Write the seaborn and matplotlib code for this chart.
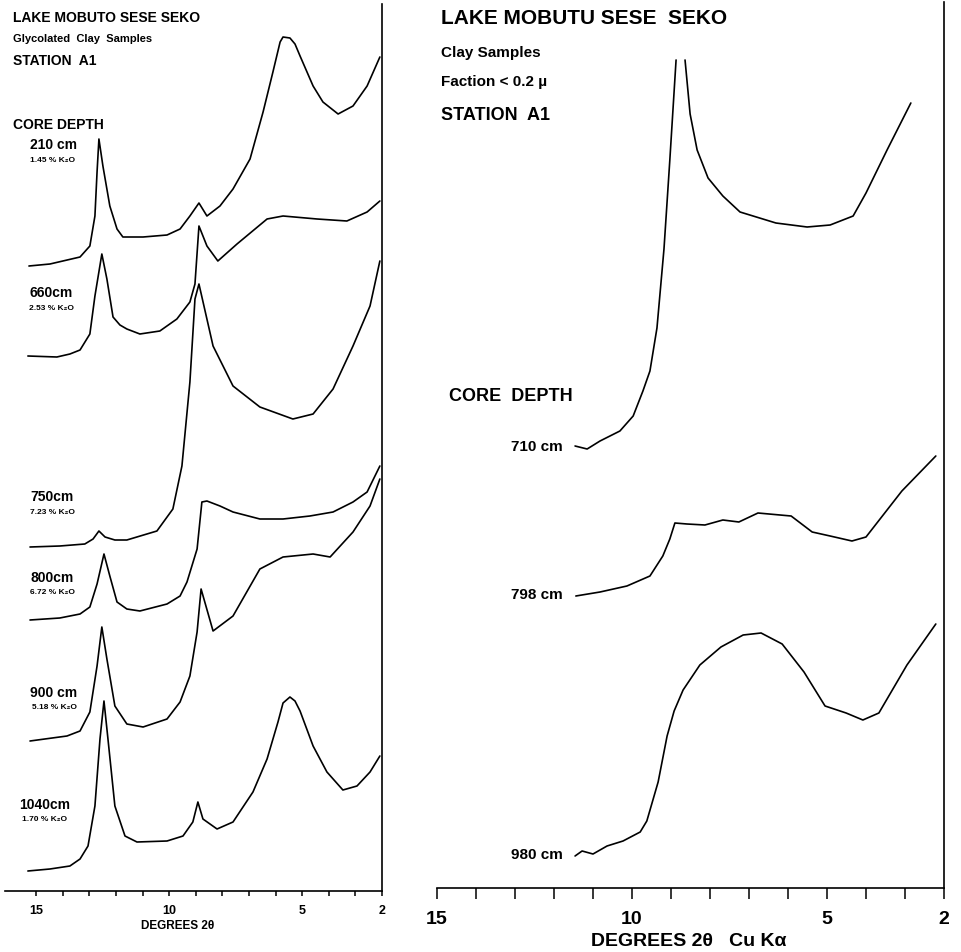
import pandas as pd
import seaborn as sns
import matplotlib
matplotlib.use("Agg")
import matplotlib.pyplot as plt
from matplotlib.ticker import FixedLocator

# ---- left panel: glycolated clay samples ----
depths_left = ["210 cm", "660cm", "750cm", "800cm", "900 cm", "1040cm"]
k2o_left = ["1.45 % K₂O", "2.53 % K₂O", "7.23 % K₂O", "6.72 % K₂O", "5.18 % K₂O", "1.70 % K₂O"]
offsets_left = [625, 535, 344, 271, 150, 20]

tt_210 = [15.27, 14.48, 13.35, 12.98, 12.79, 12.71, 12.64, 12.49, 12.23, 11.96, 11.74, 10.98, 10.08, 9.59,
          9.22, 8.88, 8.58, 8.09, 7.60, 6.96, 6.47, 6.10, 5.83, 5.72, 5.46, 5.27, 5.08, 4.59, 4.22, 3.65,
          3.09, 2.56, 2.08]
i_210 = [0, 2, 9, 20, 50, 94, 127, 100, 60, 37, 29, 29, 31, 37, 50, 63, 50, 60, 77, 107, 154, 194, 224,
         229, 228, 222, 210, 180, 164, 152, 160, 180, 209]

tt_660 = [15.31, 14.22, 13.73, 13.35, 12.98, 12.79, 12.53, 12.34, 12.11, 11.85, 11.59, 11.10, 10.35, 9.71,
          9.22, 9.03, 8.88, 8.58, 8.17, 7.45, 6.32, 5.72, 4.44, 3.32, 2.56, 2.08]
i_660 = [0, -1, 2, 6, 22, 60, 102, 77, 39, 31, 27, 22, 25, 37, 54, 72, 130, 110, 95, 112, 137, 140, 137,
         135, 144, 155]

tt_750 = [15.23, 14.11, 13.17, 12.86, 12.64, 12.41, 12.04, 11.59, 10.46, 9.86, 9.52, 9.22, 9.03, 8.88,
          8.35, 7.60, 6.59, 5.35, 4.59, 3.84, 3.09, 2.45, 2.08]
i_750 = [0, 1, 3, 8, 16, 10, 7, 7, 16, 38, 81, 165, 248, 263, 201, 161, 140, 128, 133, 158, 201, 241, 286]

tt_800 = [15.23, 14.11, 13.35, 12.98, 12.71, 12.45, 12.23, 11.96, 11.59, 11.10, 10.08, 9.59, 9.33, 8.95,
          8.77, 8.58, 8.09, 7.60, 6.59, 5.72, 4.71, 3.84, 3.09, 2.56, 2.08]
i_800 = [0, 2, 6, 13, 36, 66, 44, 18, 11, 9, 16, 24, 38, 71, 118, 119, 114, 108, 101, 101, 104, 108, 118,
         128, 154]

tt_900 = [15.23, 13.84, 13.35, 12.98, 12.71, 12.53, 12.34, 12.04, 11.59, 10.98, 10.08, 9.59, 9.22, 8.95,
          8.80, 8.35, 7.60, 6.59, 5.72, 4.59, 3.95, 3.09, 2.45, 2.08]
i_900 = [0, 5, 10, 29, 75, 114, 82, 35, 17, 14, 22, 39, 65, 109, 152, 110, 125, 172, 184, 187, 184, 209,
         235, 262]

tt_1040 = [15.31, 14.48, 13.73, 13.35, 13.05, 12.79, 12.60, 12.45, 12.30, 12.04, 11.66, 11.21, 10.08, 9.48,
           9.11, 8.92, 8.73, 8.20, 7.60, 6.85, 6.32, 5.91, 5.72, 5.46, 5.27, 5.08, 4.59, 4.07, 3.47, 2.94,
           2.45, 2.08]
i_1040 = [0, 2, 5, 12, 25, 65, 132, 170, 132, 65, 35, 29, 30, 35, 49, 69, 52, 42, 49, 79, 112, 149, 168,
          174, 170, 160, 125, 99, 81, 85, 99, 115]

# ---- right panel: clay fraction < 0.2 micron ----
depths_right = ["710 cm", "798 cm", "980 cm"]
offsets_right = [442, 292, 32]

# 710 cm peak runs off the chart paper, so the trace is in two pieces
tt_710a = [11.46, 11.15, 10.82, 10.31, 9.97, 9.72, 9.54, 9.36, 9.18, 9.03, 8.87]
i_710a = [0, -3, 5, 15, 30, 55, 75, 118, 197, 286, 386]
tt_710b = [8.64, 8.51, 8.33, 8.05, 7.67, 7.23, 6.31, 5.51, 4.92, 4.33, 4.00, 3.46, 2.85]
i_710b = [386, 332, 296, 268, 250, 234, 223, 219, 221, 230, 253, 296, 343]

tt_798 = [11.44, 10.82, 10.13, 9.54, 9.21, 9.03, 8.90, 8.59, 8.13, 7.67, 7.26, 6.77, 5.92, 5.38, 4.92,
          4.36, 4.00, 3.08, 2.21]
i_798 = [0, 4, 10, 20, 40, 57, 73, 72, 71, 76, 74, 83, 80, 64, 60, 55, 59, 105, 140]

tt_980 = [11.46, 11.28, 11.00, 10.64, 10.23, 9.79, 9.62, 9.33, 9.10, 8.92, 8.69, 8.26, 7.72, 7.15, 6.69,
          6.15, 5.59, 5.05, 4.51, 4.08, 3.67, 2.95, 2.21]
i_980 = [0, 5, 2, 10, 15, 24, 35, 74, 120, 145, 166, 191, 209, 221, 223, 212, 184, 150, 143, 136, 143,
         191, 232]

major_ticks = [15, 10, 5, 2]
minor_ticks = list(range(2, 16))

rows = []
def add(panel, name, tt, inten, off):
    for t, v in zip(tt, inten):
        rows.append({"panel": panel, "trace": name, "two_theta": t, "y": v + off})

left_tt = [tt_210, tt_660, tt_750, tt_800, tt_900, tt_1040]
left_i = [i_210, i_660, i_750, i_800, i_900, i_1040]
for name, tt, inten, off in zip(depths_left, left_tt, left_i, offsets_left):
    add("left", name, tt, inten, off)
add("right", "710a", tt_710a, i_710a, offsets_right[0])
add("right", "710b", tt_710b, i_710b, offsets_right[0])
add("right", "798", tt_798, i_798, offsets_right[1])
add("right", "980", tt_980, i_980, offsets_right[2])
df = pd.DataFrame(rows)

sns.set_style("white")
plt.rcParams["font.family"] = ["Liberation Sans", "DejaVu Sans"]
plt.rcParams["font.weight"] = "bold"
plt.rcParams["text.color"] = "black"
plt.rcParams["xtick.color"] = "black"

W, H = 962, 953
fig = plt.figure(figsize=(W / 100, H / 100), dpi=100)

def fx(x):
    return x / W

def fy(y):
    return 1 - y / H

ax1 = fig.add_axes([fx(5), fy(892), 377 / W, 887 / H])
ax2 = fig.add_axes([fx(437), fy(889), 507 / W, 886 / H])

sns.lineplot(data=df[df.panel == "left"], x="two_theta", y="y", units="trace", estimator=None,
             sort=False, color="black", lw=1.2, ax=ax1, legend=False)
sns.lineplot(data=df[df.panel == "right"], x="two_theta", y="y", units="trace", estimator=None,
             sort=False, color="black", lw=1.2, ax=ax2, legend=False)

ax1.set_xlim(16.17, 2)
ax1.set_ylim(0, 887)
ax2.set_xlim(15, 2)
ax2.set_ylim(0, 886)

for ax, size, tlen, pad in [(ax1, 9, 3.6, 5.5), (ax2, 14, 8, 8)]:
    ax.set_xlabel("")
    ax.set_ylabel("")
    ax.set_yticks([])
    for s in ["top", "left"]:
        ax.spines[s].set_visible(False)
    for s in ["bottom", "right"]:
        ax.spines[s].set_color("black")
        ax.spines[s].set_linewidth(1.2)
    ax.xaxis.set_major_locator(FixedLocator(major_ticks))
    ax.xaxis.set_minor_locator(FixedLocator(minor_ticks))
    ax.set_xticklabels([str(t) for t in major_ticks], fontweight="bold", fontsize=size, color="black")
    ax.tick_params(axis="x", which="both", direction="out", length=tlen, width=1.1, color="black",
                   bottom=True, pad=pad)
    ax.patch.set_alpha(0)

# ---- text, left ----
fig.text(fx(13), fy(18), "LAKE MOBUTO SESE SEKO", fontsize=10, fontweight="bold", va="center")
fig.text(fx(13), fy(39), "Glycolated  Clay  Samples", fontsize=8, fontweight="bold", va="center")
fig.text(fx(13), fy(61), "STATION  A1", fontsize=10, fontweight="bold", va="center")
fig.text(fx(13), fy(125), "CORE DEPTH", fontsize=10, fontweight="bold", va="center")
label_y_left = [145, 293, 497, 578, 693, 805]
label_x_left = [53, 51, 52, 52, 54, 45]
for name, k2o, ly, lx in zip(depths_left, k2o_left, label_y_left, label_x_left):
    fig.text(fx(lx), fy(ly), name, fontsize=10, fontweight="bold", ha="center", va="center")
    fig.text(fx(lx), fy(ly + 15), k2o, fontsize=6, fontweight="bold", ha="center", va="center")
fig.text(fx(178), fy(926), "DEGREES 2θ", fontsize=8.5, fontweight="bold", ha="center", va="center")

# ---- text, right ----
fig.text(fx(441), fy(18), "LAKE MOBUTU SESE  SEKO", fontsize=15, fontweight="bold", va="center")
fig.text(fx(441), fy(53), "Clay Samples", fontsize=11, fontweight="bold", va="center")
fig.text(fx(441), fy(82), "Faction < 0.2 µ", fontsize=11, fontweight="bold", va="center")
fig.text(fx(441), fy(115), "STATION  A1", fontsize=13, fontweight="bold", va="center")
fig.text(fx(449), fy(397), "CORE  DEPTH", fontsize=13, fontweight="bold", va="center")
for name, ly in zip(depths_right, [447, 595, 855]):
    fig.text(fx(563), fy(ly), name, fontsize=11, fontweight="bold", ha="right", va="center")
fig.text(fx(689), fy(942), "DEGREES 2θ   Cu Kα", fontsize=14, fontweight="bold", ha="center", va="center")

fig.savefig("out.png", dpi=100)
